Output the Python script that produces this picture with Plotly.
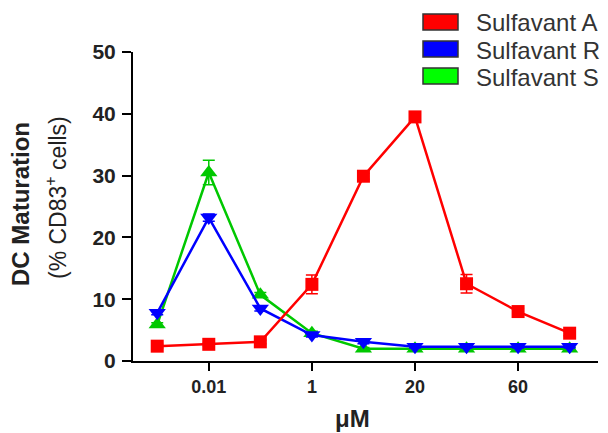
import plotly.graph_objects as go

x_idx = [0, 1, 2, 3, 4, 5, 6, 7, 8]
tick_pos = [1, 3, 5, 7]
tick_labels = ["0.01", "1", "20", "60"]

series_names = ["Sulfavant A", "Sulfavant R", "Sulfavant S"]
vals_A = [2.4, 2.7, 3.1, 12.4, 29.9, 39.5, 12.5, 8.0, 4.5]
err_A = [0.3, 0.3, 0.3, 1.5, 0.5, 0.7, 1.5, 0.5, 0.4]
vals_R = [7.8, 23.2, 8.5, 4.2, 3.1, 2.3, 2.3, 2.3, 2.3]
err_R = [0.3, 0.6, 0.4, 0.3, 0.3, 0.2, 0.2, 0.2, 0.2]
vals_S = [5.9, 30.5, 10.7, 4.5, 2.0, 2.0, 2.0, 2.0, 2.0]
err_S = [0.3, 2.0, 0.4, 0.3, 0.2, 0.2, 0.2, 0.2, 0.2]

x_title = "μM"
y_title_1 = "DC Maturation"
y_title_2 = "(% CD83<sup>+</sup> cells)"

colors = {"A": "#ff0000", "R": "#0000ff", "S": "#00c800"}
legend_fill = ["#ff0000", "#0000ff", "#00ff00"]

font = "Liberation Sans, Arial, sans-serif"
txt = "#222222"

fig = go.Figure()

def add(vals, err, color, symbol, size):
    fig.add_trace(go.Scatter(
        x=x_idx, y=vals, mode="lines+markers",
        line=dict(color=color, width=2.5),
        marker=dict(symbol=symbol, size=size, color=color),
        error_y=dict(type="data", array=err, color=color, thickness=1.5, width=6),
        showlegend=False, cliponaxis=False,
    ))

add(vals_S, err_S, colors["S"], "triangle-up", 15)
add(vals_R, err_R, colors["R"], "triangle-down", 15)
add(vals_A, err_A, colors["A"], "square", 13)

# Page body has an 8px offset; figure coordinates = screen - 8
OFF = 8
W, H = 600, 425
ml, mr, mt, mb = 125, 10, 44, 72
pw, ph = W - ml - mr, H - mt - mb

def px_to_paper(sx, sy):
    fx, fy = sx - OFF, sy - OFF
    return (fx - ml) / pw, 1 - (fy - mt) / ph

row_centers = [22, 49, 76]
for name, fillc, cy in zip(series_names, legend_fill, row_centers):
    x0, ytop = px_to_paper(423, cy - 8)
    x1, ybot = px_to_paper(458, cy + 8)
    fig.add_shape(type="rect", xref="paper", yref="paper",
                  x0=x0, x1=x1, y0=ybot, y1=ytop,
                  fillcolor=fillc, line=dict(color="#333333", width=1.5))
    tx, ty = px_to_paper(474, cy + 1)
    fig.add_annotation(xref="paper", yref="paper", x=tx, y=ty,
                       text=name, showarrow=False, xanchor="left", yanchor="middle",
                       font=dict(family=font, size=24, color="#333333"))

# Axis titles
ax, ay = px_to_paper(352, 418)
fig.add_annotation(xref="paper", yref="paper", x=ax, y=ay, text=x_title,
                   showarrow=False, xanchor="center", yanchor="middle",
                   font=dict(family=font, size=24, color=txt, weight="bold"))
t1x, t1y = px_to_paper(21, 204)
fig.add_annotation(xref="paper", yref="paper", x=t1x, y=t1y, text=y_title_1,
                   showarrow=False, textangle=-90, xanchor="center", yanchor="middle",
                   font=dict(family=font, size=24, color=txt, weight="bold"))
t2x, t2y = px_to_paper(56, 198)
fig.add_annotation(xref="paper", yref="paper", x=t2x, y=t2y, text=y_title_2,
                   showarrow=False, textangle=-90, xanchor="center", yanchor="middle",
                   font=dict(family=font, size=23, color=txt))

fig.update_layout(
    width=W, height=H,
    margin=dict(l=ml, r=mr, t=mt, b=mb, autoexpand=False),
    paper_bgcolor="white", plot_bgcolor="white",
    font=dict(family=font, color=txt),
)
fig.update_xaxes(
    range=[-0.47, 8.55], tickmode="array", tickvals=tick_pos, ticktext=tick_labels,
    showgrid=False, zeroline=False, showline=True, linecolor="black", linewidth=2,
    ticks="outside", ticklen=8, tickwidth=2, tickcolor="black",
    tickfont=dict(family=font, size=18, color=txt, weight="bold"),
    automargin=False,
)
fig.update_yaxes(
    range=[0, 50], tickvals=[0, 10, 20, 30, 40, 50],
    showgrid=False, zeroline=False, showline=True, linecolor="black", linewidth=2,
    ticks="outside", ticklen=9, tickwidth=2, tickcolor="black",
    tickfont=dict(family=font, size=21, color=txt, weight="bold"),
    ticklabelstandoff=2,
    automargin=False,
)

fig.write_html("out.html")
